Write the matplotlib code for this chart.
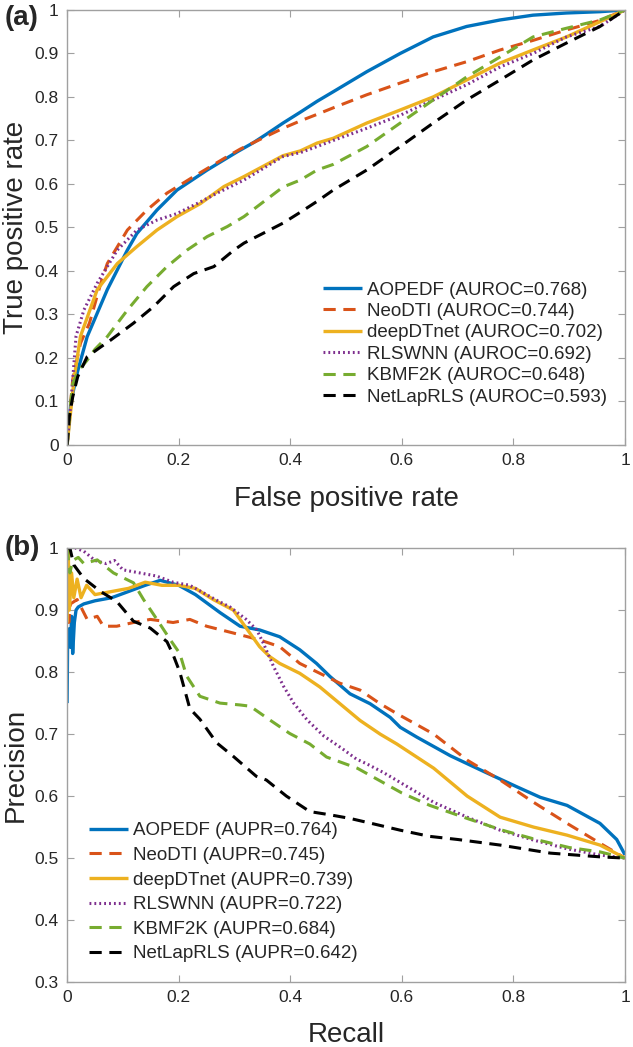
import numpy as np
import matplotlib.pyplot as plt

plt.rcParams['font.family'] = ['Liberation Sans', 'DejaVu Sans']

names = ['AOPEDF', 'NeoDTI', 'deepDTnet', 'RLSWNN', 'KBMF2K', 'NetLapRLS']
auroc = ['0.768', '0.744', '0.702', '0.692', '0.648', '0.593']
aupr = ['0.764', '0.745', '0.739', '0.722', '0.684', '0.642']
colors = ['#0072BD', '#D95319', '#EDB120', '#7E2F8E', '#77AC30', '#000000']

# ROC curves (false positive rate, true positive rate)
roc_fpr_aopedf = [0, 0.007, 0.019, 0.036, 0.072, 0.108, 0.125, 0.161, 0.197, 0.251, 0.305, 0.334, 0.358, 0.387,
                  0.418, 0.448, 0.477, 0.537, 0.597, 0.656, 0.716, 0.776, 0.835, 0.895, 0.955, 1.0]
roc_tpr_aopedf = [0, 0.1, 0.17, 0.249, 0.357, 0.448, 0.486, 0.54, 0.586, 0.632, 0.674, 0.695, 0.715, 0.74,
                  0.765, 0.79, 0.812, 0.858, 0.9, 0.938, 0.962, 0.977, 0.988, 0.993, 0.996, 1.0]
roc_fpr_neodti = [0, 0.01, 0.024, 0.04, 0.06, 0.072, 0.108, 0.143, 0.179, 0.227, 0.287, 0.31, 0.358, 0.387, 0.418,
                  0.448, 0.477, 0.537, 0.597, 0.656, 0.716, 0.776, 0.835, 0.895, 0.955, 1.0]
roc_tpr_neodti = [0, 0.15, 0.234, 0.28, 0.37, 0.417, 0.494, 0.54, 0.579, 0.617, 0.663, 0.68, 0.71, 0.728, 0.745,
                  0.76, 0.775, 0.805, 0.832, 0.858, 0.881, 0.908, 0.93, 0.954, 0.976, 1.0]
roc_fpr_deepdtnet = [0, 0.013, 0.024, 0.054, 0.09, 0.125, 0.161, 0.197, 0.239, 0.281, 0.317, 0.387, 0.418, 0.448,
                     0.477, 0.537, 0.597, 0.656, 0.716, 0.776, 0.835, 0.895, 0.955, 1.0]
roc_tpr_deepdtnet = [0, 0.157, 0.25, 0.357, 0.417, 0.456, 0.494, 0.525, 0.555, 0.594, 0.617, 0.665, 0.676, 0.694,
                     0.705, 0.74, 0.77, 0.8, 0.839, 0.878, 0.908, 0.938, 0.973, 1.0]
roc_fpr_rlswnn = [0, 0.007, 0.016, 0.03, 0.054, 0.09, 0.125, 0.161, 0.197, 0.233, 0.269, 0.317, 0.387, 0.418, 0.448,
                  0.477, 0.537, 0.597, 0.656, 0.716, 0.776, 0.835, 0.895, 0.955, 1.0]
roc_tpr_rlswnn = [0, 0.1, 0.25, 0.31, 0.372, 0.448, 0.494, 0.517, 0.532, 0.555, 0.579, 0.609, 0.663, 0.672, 0.686,
                  0.7, 0.728, 0.758, 0.793, 0.828, 0.869, 0.9, 0.938, 0.962, 1.0]
roc_fpr_kbmf2k = [0, 0.005, 0.01, 0.02, 0.036, 0.05, 0.072, 0.108, 0.143, 0.179, 0.215, 0.251, 0.287, 0.317, 0.387,
                  0.418, 0.448, 0.477, 0.537, 0.597, 0.656, 0.716, 0.776, 0.835, 0.895, 0.955, 1.0]
roc_tpr_kbmf2k = [0, 0.08, 0.14, 0.17, 0.195, 0.22, 0.249, 0.31, 0.364, 0.41, 0.448, 0.479, 0.502, 0.525, 0.593,
                  0.609, 0.632, 0.645, 0.686, 0.74, 0.793, 0.846, 0.892, 0.938, 0.958, 0.977, 1.0]
roc_fpr_netlaprls = [0, 0.004, 0.01, 0.019, 0.036, 0.06, 0.078, 0.119, 0.155, 0.191, 0.227, 0.263, 0.299, 0.317,
                     0.387, 0.418, 0.448, 0.477, 0.537, 0.597, 0.656, 0.716, 0.776, 0.835, 0.895, 0.955, 1.0]
roc_tpr_netlaprls = [0, 0.065, 0.11, 0.157, 0.203, 0.225, 0.241, 0.28, 0.318, 0.364, 0.394, 0.41, 0.448, 0.464,
                     0.51, 0.535, 0.56, 0.586, 0.632, 0.686, 0.74, 0.793, 0.839, 0.885, 0.924, 0.962, 1.0]

# PR curves (recall, precision)
pr_r_aopedf = [0, 0.001, 0.004, 0.006, 0.008, 0.01, 0.013, 0.016, 0.02, 0.03, 0.05, 0.08, 0.11, 0.14, 0.167, 0.2,
               0.23, 0.274, 0.31, 0.345, 0.381, 0.417, 0.447, 0.471, 0.507, 0.543, 0.579, 0.597, 0.627, 0.687, 0.746,
               0.806, 0.848, 0.896, 0.955, 0.985, 1.0]
pr_p_aopedf = [0.75, 0.86, 0.87, 0.84, 0.89, 0.83, 0.88, 0.9, 0.905, 0.91, 0.915, 0.92, 0.93, 0.94, 0.948, 0.94,
               0.925, 0.896, 0.874, 0.868, 0.857, 0.836, 0.814, 0.793, 0.765, 0.749, 0.727, 0.711, 0.695, 0.665,
               0.64, 0.615, 0.598, 0.585, 0.556, 0.53, 0.505]
pr_r_neodti = [0, 0.003, 0.006, 0.018, 0.036, 0.054, 0.065, 0.089, 0.119, 0.149, 0.19, 0.22, 0.25, 0.298, 0.345,
               0.381, 0.417, 0.453, 0.489, 0.525, 0.561, 0.591, 0.657, 0.717, 0.776, 0.836, 0.896, 0.955, 1.0]
pr_p_neodti = [0.95, 0.88, 0.91, 0.917, 0.885, 0.89, 0.874, 0.874, 0.88, 0.885, 0.88, 0.885, 0.874, 0.863, 0.852,
               0.841, 0.814, 0.798, 0.782, 0.771, 0.749, 0.733, 0.7, 0.658, 0.626, 0.59, 0.556, 0.524, 0.5]
pr_r_deepdtnet = [0, 0.002, 0.004, 0.008, 0.012, 0.018, 0.025, 0.035, 0.05, 0.08, 0.11, 0.14, 0.17, 0.2, 0.23,
                  0.262, 0.298, 0.345, 0.363, 0.381, 0.417, 0.453, 0.489, 0.525, 0.561, 0.591, 0.657, 0.717, 0.776,
                  0.836, 0.896, 0.955, 1.0]
pr_p_deepdtnet = [0.88, 1.0, 0.9, 0.96, 0.92, 0.95, 0.92, 0.94, 0.925, 0.93, 0.935, 0.945, 0.94, 0.94, 0.935,
                  0.917, 0.9, 0.841, 0.825, 0.814, 0.798, 0.776, 0.749, 0.722, 0.7, 0.684, 0.645, 0.6, 0.566, 0.55,
                  0.537, 0.521, 0.5]
pr_r_rlswnn = [0.005, 0.015, 0.03, 0.05, 0.07, 0.085, 0.1, 0.13, 0.16, 0.19, 0.22, 0.24, 0.27, 0.292, 0.321, 0.34,
               0.352, 0.37, 0.388, 0.406, 0.43, 0.46, 0.494, 0.518, 0.537, 0.567, 0.597, 0.657, 0.717, 0.776, 0.836,
               0.896, 0.955, 1.0]
pr_p_rlswnn = [1.0, 1.0, 0.995, 0.98, 0.975, 0.98, 0.965, 0.96, 0.955, 0.945, 0.94, 0.93, 0.915, 0.905, 0.885,
               0.868, 0.846, 0.809, 0.777, 0.75, 0.723, 0.697, 0.676, 0.66, 0.652, 0.638, 0.622, 0.59, 0.566, 0.545,
               0.529, 0.515, 0.505, 0.5]
pr_r_kbmf2k = [0, 0.005, 0.01, 0.02, 0.03, 0.054, 0.083, 0.119, 0.137, 0.161, 0.185, 0.202, 0.214, 0.238, 0.274,
               0.31, 0.328, 0.363, 0.399, 0.435, 0.465, 0.52, 0.56, 0.6, 0.65, 0.72, 0.78, 0.84, 0.9, 0.955, 1.0]
pr_p_kbmf2k = [1.0, 0.96, 0.98, 0.985, 0.975, 0.981, 0.96, 0.944, 0.917, 0.885, 0.852, 0.83, 0.794, 0.761, 0.75,
               0.747, 0.745, 0.723, 0.701, 0.684, 0.663, 0.645, 0.625, 0.605, 0.585, 0.563, 0.545, 0.53, 0.517, 0.51,
               0.5]
pr_r_netlaprls = [0, 0.005, 0.012, 0.03, 0.06, 0.089, 0.119, 0.149, 0.179, 0.19, 0.202, 0.22, 0.238, 0.268, 0.298,
                  0.339, 0.357, 0.393, 0.435, 0.47, 0.507, 0.55, 0.597, 0.65, 0.7, 0.776, 0.866, 0.955, 1.0]
pr_p_netlaprls = [1.0, 1.0, 0.973, 0.951, 0.93, 0.914, 0.882, 0.871, 0.849, 0.828, 0.8, 0.741, 0.724, 0.686, 0.664,
                  0.632, 0.626, 0.6, 0.575, 0.57, 0.564, 0.555, 0.545, 0.535, 0.53, 0.521, 0.508, 0.502, 0.5]

roc_x = [roc_fpr_aopedf, roc_fpr_neodti, roc_fpr_deepdtnet, roc_fpr_rlswnn, roc_fpr_kbmf2k, roc_fpr_netlaprls]
roc_y = [roc_tpr_aopedf, roc_tpr_neodti, roc_tpr_deepdtnet, roc_tpr_rlswnn, roc_tpr_kbmf2k, roc_tpr_netlaprls]
pr_x = [pr_r_aopedf, pr_r_neodti, pr_r_deepdtnet, pr_r_rlswnn, pr_r_kbmf2k, pr_r_netlaprls]
pr_y = [pr_p_aopedf, pr_p_neodti, pr_p_deepdtnet, pr_p_rlswnn, pr_p_kbmf2k, pr_p_netlaprls]

styles = [dict(ls='-', lw=2.4),
          dict(ls=(0, (4, 2.5)), lw=2.2),
          dict(ls='-', lw=2.4),
          dict(ls=(0, (0.6, 1.0)), lw=2.2),
          dict(ls=(0, (4, 2.5)), lw=2.2),
          dict(ls=(0, (4, 2.5)), lw=2.2)]

spine_col = '#a0a0a0'
text_col = '#262626'

fig = plt.figure(figsize=(6.33, 10.47), dpi=100)
ax1 = fig.add_axes([0.106, 0.575, 0.8815, 0.4155])
ax2 = fig.add_axes([0.106, 0.062, 0.8815, 0.4145])


def style_axes(ax, ymin, yticks):
    ax.set_xlim(0, 1)
    ax.set_ylim(ymin, 1)
    ax.set_xticks(np.arange(0, 1.01, 0.2))
    ax.set_xticklabels(['0', '0.2', '0.4', '0.6', '0.8', '1'])
    ax.set_yticks(yticks)
    ax.set_yticklabels(['0' if t == 0 else ('1' if t == 1 else '%.1f' % t) for t in yticks])
    ax.tick_params(direction='in', top=True, right=True, length=5, width=0.8, color=spine_col,
                   labelsize=12.5, labelcolor=text_col, pad=6)
    for s in ax.spines.values():
        s.set_color(spine_col)
        s.set_linewidth(1.0)


for i in range(6):
    ax1.plot(roc_x[i], roc_y[i], color=colors[i], label='%s (AUROC=%s)' % (names[i], auroc[i]),
             solid_capstyle='butt', **styles[i])
    ax2.plot(pr_x[i], pr_y[i], color=colors[i], label='%s (AUPR=%s)' % (names[i], aupr[i]),
             solid_capstyle='butt', **styles[i])

style_axes(ax1, 0, np.round(np.arange(0, 1.01, 0.1), 1))
style_axes(ax2, 0.3, np.round(np.arange(0.3, 1.01, 0.1), 1))

ax1.set_xlabel('False positive rate', fontsize=20, color=text_col, labelpad=13)
ax1.set_ylabel('True positive rate', fontsize=20, color=text_col, labelpad=4)
ax2.set_xlabel('Recall', fontsize=20, color=text_col, labelpad=12)
ax2.set_ylabel('Precision', fontsize=20, color=text_col, labelpad=4)

leg1 = ax1.legend(loc='lower right', bbox_to_anchor=(0.991, 0.06), frameon=False, fontsize=13.5,
                  handlelength=2.1, handletextpad=0.25, labelspacing=0.23, borderpad=0.2)
leg2 = ax2.legend(loc='lower left', bbox_to_anchor=(0.015, 0.015), frameon=False, fontsize=13.5,
                  handlelength=2.1, handletextpad=0.25, labelspacing=0.4, borderpad=0.2)
for leg in (leg1, leg2):
    for t in leg.get_texts():
        t.set_color(text_col)

fig.text(0.008, 0.983, '(a)', fontsize=20, fontweight='bold', color=text_col, va='center')
fig.text(0.008, 0.477, '(b)', fontsize=20, fontweight='bold', color=text_col, va='center')

fig.savefig('out.png', dpi=100)
